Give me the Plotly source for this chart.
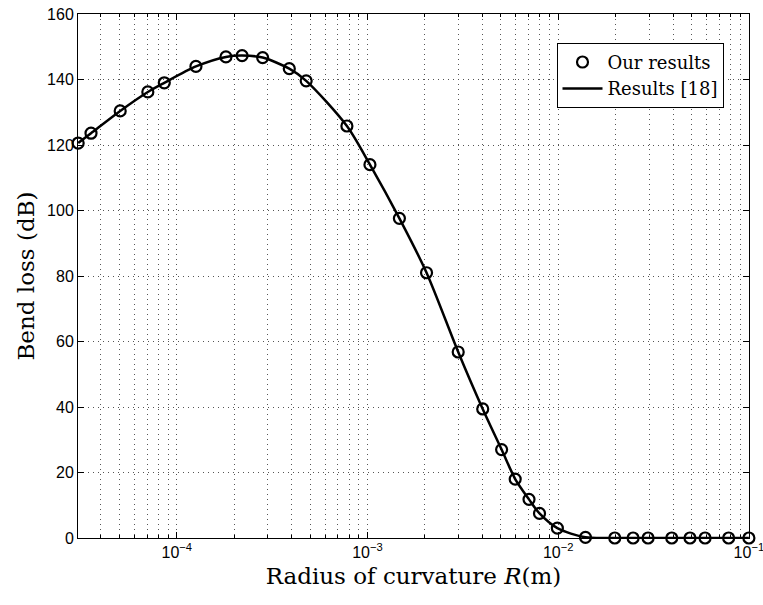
import plotly.graph_objects as go

# Radius of curvature R (m)
radius = [3.04e-5, 3.55e-5, 5.05e-5, 7.05e-5, 8.6e-5, 1.26e-4, 1.81e-4, 2.2e-4,
          2.82e-4, 3.89e-4, 4.77e-4, 7.8e-4, 1.03e-3, 1.47e-3, 2.04e-3, 2.99e-3,
          4.02e-3, 5.05e-3, 5.95e-3, 7.03e-3, 7.98e-3, 9.9e-3, 1.39e-2, 1.98e-2,
          2.47e-2, 2.96e-2, 3.94e-2, 4.91e-2, 5.89e-2, 7.83e-2, 1.0e-1]
# Bend loss (dB)
bend_loss = [120.6, 123.6, 130.4, 136.2, 139.0, 144.0, 146.9, 147.3,
             146.7, 143.3, 139.6, 125.8, 114.0, 97.6, 81.0, 56.8,
             39.4, 27.0, 18.0, 11.8, 7.5, 3.0, 0.2, 0.0,
             0.0, 0.0, 0.0, 0.0, 0.0, 0.0, 0.0]

x_tickvals = [1e-4, 1e-3, 1e-2, 1e-1]
x_ticktext = ["10<sup>\u22124</sup>", "10<sup>\u22123</sup>", "10<sup>\u22122</sup>", "10<sup>\u22121</sup>"]
y_tickvals = [0, 20, 40, 60, 80, 100, 120, 140, 160]

minor_x = [m * 10.0 ** e for e in range(-5, -1) for m in range(2, 10)]

serif = "DejaVu Serif, Liberation Serif, serif"
sans = "Liberation Sans, Arial, sans-serif"

fig = go.Figure()
fig.add_trace(go.Scatter(
    x=radius, y=bend_loss, mode="lines", name="Results [18]",
    line=dict(color="black", width=2.5, shape="spline", smoothing=0.8),
    cliponaxis=False,
))
fig.add_trace(go.Scatter(
    x=radius, y=bend_loss, mode="markers", name="Our results",
    marker=dict(symbol="circle-open", size=11, color="black", line=dict(width=2.2, color="black")),
    cliponaxis=False,
))

grid_dash = "1px,4px"
grid = dict(showgrid=True, gridcolor="#555", griddash=grid_dash, gridwidth=1)

fig.update_xaxes(
    type="log", range=[-4.518, -0.9995], automargin=False,
    tickvals=x_tickvals, ticktext=x_ticktext,
    ticks="inside", ticklen=6, tickcolor="black", tickwidth=1,
    showline=True, linecolor="black", linewidth=1, mirror="ticks",
    tickfont=dict(family=sans, size=16, color="black"),
    ticklabeloverflow="allow",
    title=dict(text="Radius of curvature <i>R</i>(m)", font=dict(family=serif, size=23, color="black"), standoff=7),
    minor=dict(tickvals=minor_x, ticks="inside", ticklen=3, tickcolor="black",
               showgrid=True, gridcolor="#555", griddash=grid_dash, gridwidth=1),
    zeroline=False,
    **grid,
)
fig.update_yaxes(
    range=[0, 160], tickvals=y_tickvals, automargin=False,
    ticks="inside", ticklen=6, tickcolor="black", tickwidth=1,
    showline=True, linecolor="black", linewidth=1, mirror="ticks",
    tickfont=dict(family=sans, size=16, color="black"),
    title=dict(text="Bend loss (dB)", font=dict(family=serif, size=23, color="black"), standoff=6),
    zeroline=False,
    **grid,
)

fig.update_layout(
    width=763, height=605,
    margin=dict(l=78, r=14, t=14, b=67),
    plot_bgcolor="white", paper_bgcolor="white",
    showlegend=True,
    legend=dict(
        x=0.962, y=0.945, xanchor="right", yanchor="top",
        bgcolor="white", bordercolor="black", borderwidth=1,
        font=dict(family=serif, size=18, color="black"),
        traceorder="reversed", itemwidth=40, tracegroupgap=0,
    ),
)

fig.write_html("out.html")
